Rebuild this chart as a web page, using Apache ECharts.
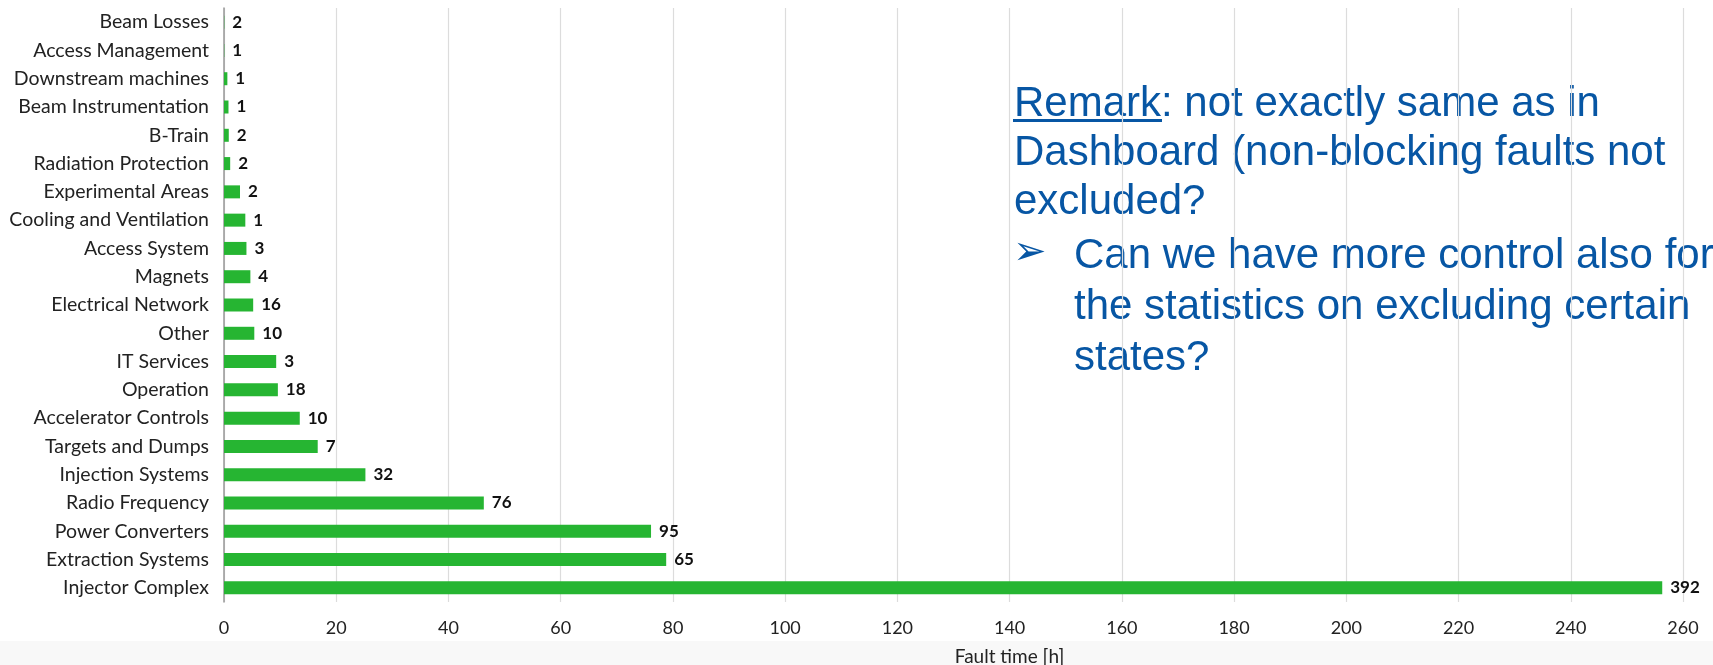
<!DOCTYPE html>
<html>
<head>
<meta charset="utf-8">
<script src="https://cdn.jsdelivr.net/npm/echarts@6/dist/echarts.min.js"></script>
<style>
    html, body { margin: 0; padding: 0; background: #fff; }
    #chart { width: 1713px; height: 665px; }
</style>
</head>
<body>
<div id="chart"></div>
<script>
// categories listed top to bottom, as in the picture
const categories = ['Beam Losses', 'Access Management', 'Downstream machines', 'Beam Instrumentation',
    'B-Train', 'Radiation Protection', 'Experimental Areas', 'Cooling and Ventilation', 'Access System',
    'Magnets', 'Electrical Network', 'Other', 'IT Services', 'Operation', 'Accelerator Controls',
    'Targets and Dumps', 'Injection Systems', 'Radio Frequency', 'Power Converters',
    'Extraction Systems', 'Injector Complex'];
const faultHours = [0.05, 0.05, 0.6, 0.8, 0.85, 1.1, 2.85, 3.8, 4.0, 4.7, 5.2, 5.4, 9.3, 9.6,
    13.5, 16.7, 25.2, 46.3, 76.1, 78.8, 256.3];
const faultCounts = [2, 1, 1, 1, 2, 2, 2, 1, 3, 4, 16, 10, 3, 18, 10, 7, 32, 76, 95, 65, 392];

const remarkLines = ['Remark: not exactly same as in', 'Dashboard (non-blocking faults not', 'excluded?'];
const bulletLines = ['Can we have more control also for', 'the statistics on excluding certain', 'states?'];

const textBlue = '#0756a4';
const textFont = '"Liberation Sans", Arial, sans-serif';

var graphics = [{
    type: 'rect',
    shape: { x: 0, y: 641, width: 1713, height: 24 },
    style: { fill: '#f8f8f8' },
    silent: true,
    z: -1
}];
remarkLines.forEach(function(line, i) {
    graphics.push({
        type: 'text',
        x: 1014,
        y: 104 + i * 49,
        style: { text: line, fill: textBlue, font: '42px ' + textFont, verticalAlign: 'middle' }
    });
});
graphics.push({
    type: 'rect',
    shape: { x: 1013, y: 119, width: 149, height: 3 },
    style: { fill: textBlue }
});
graphics.push({
    type: 'text',
    x: 1013,
    y: 254,
    style: { text: '\u27A2', fill: textBlue, font: '40px "DejaVu Sans"', verticalAlign: 'middle' }
});
bulletLines.forEach(function(line, i) {
    graphics.push({
        type: 'text',
        x: 1074,
        y: 256 + i * 51,
        style: { text: line, fill: textBlue, font: '42px ' + textFont, verticalAlign: 'middle' }
    });
});

var option = {
    animation: false,
    grid: {
        left: 224,
        right: 30,
        top: 8,
        bottom: 63,
        outerBoundsMode: 'none'
    },
    xAxis: {
        type: 'value',
        min: 0,
        max: 260,
        interval: 20,
        name: 'Fault time [h]',
        nameLocation: 'middle',
        nameGap: 45,
        nameTextStyle: {
            fontFamily: 'Lato',
            fontSize: 19,
            color: '#222',
            padding: [0, 0, 0, 112]
        },
        axisLine: { show: false },
        axisTick: { show: false },
        axisLabel: {
            margin: 17,
            fontFamily: 'Lato',
            fontSize: 18,
            color: '#222'
        },
        splitLine: {
            lineStyle: { color: '#dcdcdc', width: 1.2 }
        }
    },
    yAxis: {
        type: 'category',
        inverse: true,
        data: categories,
        axisLine: {
            lineStyle: { color: '#999', width: 1.5 }
        },
        axisTick: { show: false },
        axisLabel: {
            margin: 15,
            fontFamily: 'Lato',
            fontSize: 19.5,
            color: '#222'
        }
    },
    series: [{
        name: 'Fault time',
        type: 'bar',
        data: faultHours,
        barWidth: 13,
        itemStyle: { color: '#26b532' },
        label: {
            show: true,
            position: 'right',
            distance: 8,
            fontFamily: 'Lato',
            fontWeight: 'bold',
            fontSize: 17,
            color: '#111',
            formatter: function(p) {
                return faultCounts[p.dataIndex];
            }
        }
    }],
    graphic: graphics
};

var chart = echarts.init(document.getElementById('chart'));
chart.setOption(option);
</script>
</body>
</html>
